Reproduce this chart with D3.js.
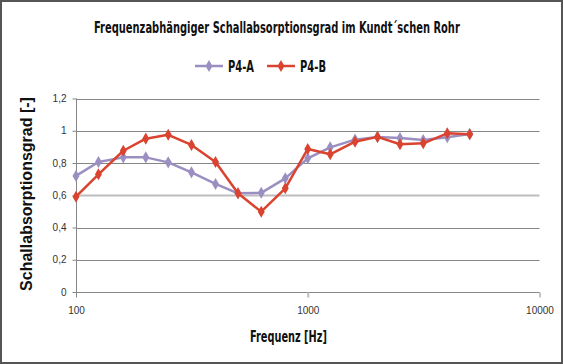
<!DOCTYPE html>
<html><head><meta charset="utf-8">
<script src="https://cdn.jsdelivr.net/npm/d3@7"></script>
<style>
html,body{margin:0;padding:0;background:#fff;}
svg{display:block;}
</style></head>
<body>
<svg id="chart" width="563" height="364"></svg>
<script>
const frequencies = [100,125,160,200,250,315,400,500,630,800,1000,1250,1600,2000,2500,3150,4000,5000];
const seriesNames = ["P4-A","P4-B"];
const valuesA = [0.72,0.806,0.835,0.835,0.804,0.742,0.67,0.612,0.615,0.705,0.829,0.897,0.945,0.962,0.955,0.943,0.96,0.98];
const valuesB = [0.591,0.73,0.876,0.951,0.975,0.912,0.806,0.612,0.498,0.643,0.887,0.854,0.932,0.962,0.916,0.922,0.984,0.978];
const xTicks = [100,1000,10000];
const yTicks = [0,0.2,0.4,0.6,0.8,1,1.2];
const colors = ["#9b8fc1","#d9432f"];
const titleText = "Frequenzabhängiger Schallabsorptionsgrad im Kundt´schen Rohr";
const xLabel = "Frequenz [Hz]";
const yLabel = "Schallabsorptionsgrad [-]";

const W = 563, H = 364;
const svg = d3.select("#chart");
const condensed = "'DejaVu Sans Condensed','Liberation Sans Narrow',sans-serif";

svg.append("rect").attr("x",1).attr("y",1).attr("width",W-2).attr("height",H-2)
  .attr("fill","#fff").attr("stroke","#555").attr("stroke-width",2);

const x = d3.scaleLog().domain([100,10000]).range([76,539.5]);
const y = d3.scaleLinear().domain([0,1.2]).range([292,98.5]);

// gridlines
svg.append("g").selectAll("line").data(yTicks.filter(d=>d>0)).join("line")
  .attr("x1",76).attr("x2",539.5)
  .attr("y1",d=>Math.round(y(d))+0.5).attr("y2",d=>Math.round(y(d))+0.5)
  .attr("stroke",d=>Math.abs(d-0.6)<1e-9?"#bdbdbd":"#868686")
  .attr("stroke-width",d=>Math.abs(d-0.6)<1e-9?2:1);

// y axis
const yAxis = d3.axisLeft(y).tickValues(yTicks).tickSize(4)
  .tickFormat(d=>d3.format(".1~f")(d).replace(".",","));
const gy = svg.append("g").attr("transform","translate(76.5,0)").call(yAxis);
gy.select(".domain").attr("stroke","#868686").attr("d","M0,"+y(1.2)+"V"+y(0));
gy.selectAll(".tick line").attr("stroke","#868686");
gy.selectAll(".tick text").attr("font-family","'Liberation Sans',Arial,sans-serif")
  .attr("font-size",10).attr("fill","#333").attr("x",-10);

// x axis
const xAxis = d3.axisBottom(x).tickValues(xTicks).tickSize(5).tickFormat(d=>String(d));
const gx = svg.append("g").attr("transform","translate(0,292.5)").call(xAxis);
gx.select(".domain").attr("stroke","#868686").attr("d","M76,0H539.5");
gx.selectAll(".tick line").attr("stroke",d=>d===1000?"#bdbdbd":"#868686").attr("stroke-width",d=>d===1000?2:1);
gx.selectAll(".tick text").attr("font-family","'Liberation Sans',Arial,sans-serif")
  .attr("font-size",10).attr("fill","#333").attr("y",14);

// lines
const seriesData = [valuesA, valuesB];
const line = d3.line().x((d,i)=>x(frequencies[i])).y(d=>y(d));
const diamond = d3.symbol().type(d3.symbolDiamond).size(42);
seriesData.forEach((vals,si)=>{
  const g = svg.append("g");
  g.append("path").datum(vals).attr("d",line).attr("fill","none")
    .attr("stroke",colors[si]).attr("stroke-width",2.5).attr("stroke-linejoin","round");
  g.selectAll("path.m").data(vals).join("path").attr("class","m")
    .attr("d",diamond).attr("fill",colors[si])
    .attr("transform",(d,i)=>`translate(${x(frequencies[i])},${y(d)})`);
});

// condensed text helper: left x, baseline y, target width
function narrowText(str, x0, y0, width, size){
  const t = svg.append("text").attr("x",0).attr("y",0)
    .attr("font-family",condensed).attr("font-weight","bold").attr("font-size",size)
    .attr("fill","#111").text(str);
  const natural = t.node().getComputedTextLength();
  const s = Math.min(1, width/natural);
  t.attr("transform",`translate(${x0},${y0}) scale(${s},1)`);
  return t;
}

// title
narrowText(titleText, 94, 33, 366, 15);

// legend
const legendPos = [{lx:195, tx:228},{lx:267, tx:300}];
seriesNames.forEach((n,i)=>{
  const p = legendPos[i];
  svg.append("line").attr("x1",p.lx).attr("x2",p.lx+28).attr("y1",66).attr("y2",66)
    .attr("stroke",colors[i]).attr("stroke-width",2.5);
  svg.append("path").attr("d",diamond).attr("fill",colors[i])
    .attr("transform",`translate(${p.lx+14},66)`);
  narrowText(n, p.tx, 71.5, 26, 15);
});

// axis titles
narrowText(xLabel, 250, 341.5, 77, 15);
svg.append("text").attr("transform","translate(32,194) rotate(-90)").attr("text-anchor","middle")
  .attr("font-family","'Liberation Sans',Arial,sans-serif").attr("font-weight","bold").attr("font-size",16)
  .attr("fill","#111").text(yLabel);
</script>
</body></html>
